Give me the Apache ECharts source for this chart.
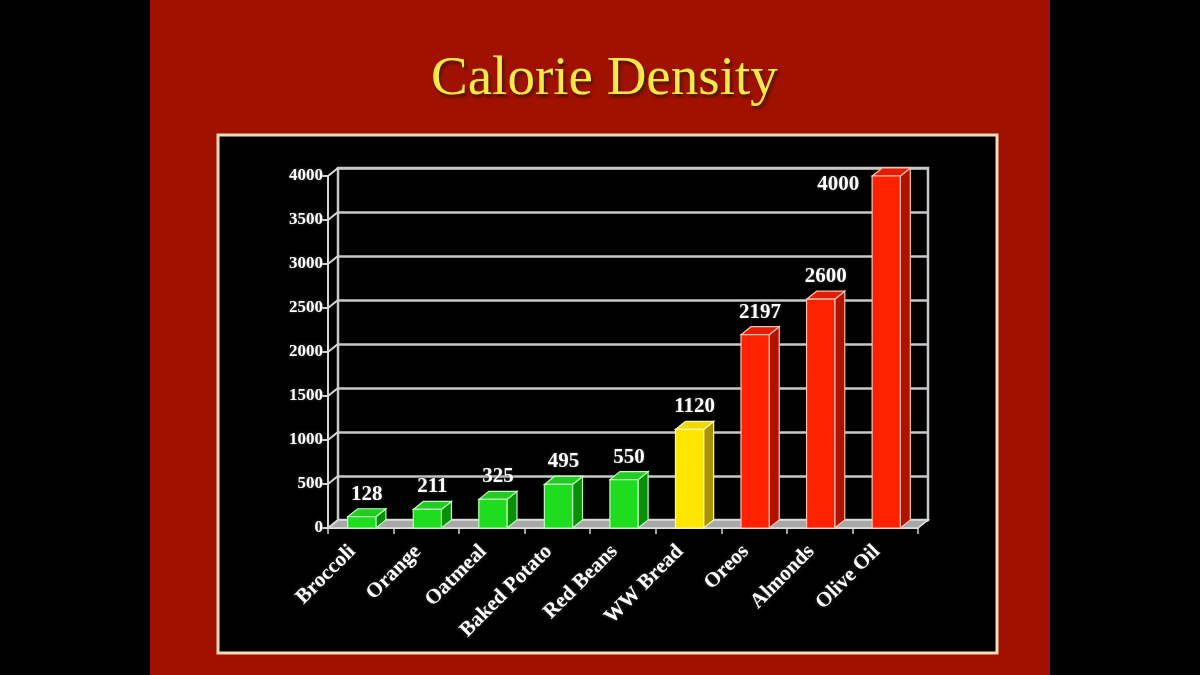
<!DOCTYPE html>
<html>
<head>
<meta charset="utf-8">
<title>Calorie Density</title>
<script src="https://cdn.jsdelivr.net/npm/echarts@6/dist/echarts.min.js"></script>
<style>
  html, body { margin: 0; padding: 0; background: #000; }
  #main { width: 1200px; height: 675px; }
</style>
</head>
<body>
<div id="main"></div>
<script>
// data
var categories = ['Broccoli', 'Orange', 'Oatmeal', 'Baked Potato', 'Red Beans', 'WW Bread', 'Oreos', 'Almonds', 'Olive Oil'];
var calories = [128, 211, 325, 495, 550, 1120, 2197, 2600, 4000];
var densityGroup = ['low', 'low', 'low', 'low', 'low', 'mid', 'high', 'high', 'high'];
var yTicks = [0, 500, 1000, 1500, 2000, 2500, 3000, 3500, 4000];

// colours for each group: front / side / top
var groupColors = {
    low:  { front: '#1fdc1f', side: '#0b8f0b', top: '#22cc22', edge: '#b8ffb8' },
    mid:  { front: '#ffe600', side: '#a89400', top: '#f0d800', edge: '#fff8b0' },
    high: { front: '#ff2200', side: '#b01200', top: '#e61c00', edge: '#ffc0b0' }
};

var DX = 10, DY = -8;   // 3d depth offset
var serif = "'Liberation Serif', 'DejaVu Serif', serif";

var myChart = echarts.init(document.getElementById('main'));

function bandWidth(api) {
    return api.size([1, 0])[0];
}

// floor of the box
function renderFloor(params, api) {
    var band = bandWidth(api);
    var p0 = api.coord([0, 0]);
    var p1 = api.coord([categories.length - 1, 0]);
    var xl = p0[0] - band / 2, xr = p1[0] + band / 2, y = p0[1];
    return {
        type: 'polygon',
        shape: { points: [[xl, y], [xr, y], [xr + DX, y + DY], [xl + DX, y + DY]] },
        style: { fill: '#a8a8a8', stroke: '#e0e0e0', lineWidth: 1.5 }
    };
}

// diagonal connectors from the front axis ticks to the back wall
function renderConnector(params, api) {
    var band = bandWidth(api);
    var p = api.coord([0, api.value(0)]);
    var x = p[0] - band / 2;
    return {
        type: 'line',
        shape: { x1: x, y1: p[1], x2: x + DX, y2: p[1] + DY },
        style: { stroke: '#d8d8d8', lineWidth: 2 }
    };
}

function renderBar(params, api) {
    var idx = api.value(0);
    var val = api.value(1);
    var top = api.coord([idx, val]);
    var base = api.coord([idx, 0]);
    var band = bandWidth(api);
    var w = band * 0.43;
    var x = top[0] - w / 2 + 1;
    var c = groupColors[densityGroup[params.dataIndex]];
    var edge = { stroke: c.edge, lineWidth: 1.2 };
    var textBase = {
        text: String(val), fill: '#fff', font: 'bold 21px ' + serif,
        textShadowColor: 'rgba(80,80,80,0.9)', textShadowBlur: 3
    };

    var label;
    if (top[1] + DY - 30 < params.coordSys.y) {
        // no room above: put it to the left of the bar top
        label = { type: 'text', style: Object.assign({
            x: x - 13, y: top[1] + 9, align: 'right', verticalAlign: 'middle'
        }, textBase) };
    } else {
        label = { type: 'text', style: Object.assign({
            x: x + w / 2 + DX / 2, y: top[1] + DY - 4, align: 'center', verticalAlign: 'bottom'
        }, textBase) };
    }

    return {
        type: 'group',
        children: [
            {
                type: 'polygon',
                shape: { points: [[x + w, top[1]], [x + w + DX, top[1] + DY], [x + w + DX, base[1] + DY], [x + w, base[1]]] },
                style: Object.assign({ fill: c.side }, edge)
            },
            {
                type: 'polygon',
                shape: { points: [[x, top[1]], [x + DX, top[1] + DY], [x + w + DX, top[1] + DY], [x + w, top[1]]] },
                style: Object.assign({ fill: c.top }, edge)
            },
            {
                type: 'rect',
                shape: { x: x, y: top[1], width: w, height: base[1] - top[1] },
                style: Object.assign({ fill: c.front }, edge)
            },
            label
        ]
    };
}

var barData = categories.map(function (name, i) { return [i, calories[i]]; });
var tickData = yTicks.map(function (v) { return [v]; });

var option = {
    backgroundColor: '#000',
    animation: false,
    title: {
        text: 'Calorie Density',
        left: 426,
        top: 47,
        textStyle: {
            fontFamily: serif,
            fontSize: 55,
            fontWeight: 'normal',
            color: '#ffe94a',
            textShadowColor: '#4a1500',
            textShadowBlur: 3,
            textShadowOffsetX: 2,
            textShadowOffsetY: 3
        }
    },
    graphic: {
        elements: [
            { type: 'rect', z: -20, shape: { x: 150, y: 0, width: 900, height: 675 }, style: { fill: '#a01100' } },
            { type: 'rect', z: -19, shape: { x: 218, y: 135, width: 779, height: 518 },
              style: { fill: '#000', stroke: '#f6dcb6', lineWidth: 3 } }
        ]
    },
    grid: [
        { left: 328, top: 176, width: 590, height: 352 },
        { left: 338, top: 168, width: 590, height: 352, show: true, borderColor: '#c8c8c8', borderWidth: 2.5 }
    ],
    xAxis: [
        {
            type: 'category', gridIndex: 0, data: categories,
            axisLine: { lineStyle: { color: '#e0e0e0', width: 2 } },
            axisTick: { show: true, length: 6, lineStyle: { color: '#d0d0d0', width: 1.5 } },
            axisLabel: {
                rotate: 45, margin: 12, padding: [0, 12, 0, 0],
                color: '#fff', fontFamily: serif, fontWeight: 'bold', fontSize: 21,
                textShadowColor: 'rgba(90,90,90,0.9)', textShadowBlur: 3
            }
        },
        {
            type: 'category', gridIndex: 1, data: categories,
            axisLine: { show: false }, axisTick: { show: false }, axisLabel: { show: false }
        }
    ],
    yAxis: [
        {
            type: 'value', gridIndex: 0, min: 0, max: 4000, interval: 500,
            axisLine: { show: true, lineStyle: { color: '#d8d8d8', width: 2 } },
            axisTick: { show: true, length: 7, lineStyle: { color: '#d8d8d8', width: 2 } },
            splitLine: { show: false },
            axisLabel: {
                margin: 5, color: '#fff', fontFamily: serif, fontWeight: 'bold', fontSize: 17,
                formatter: function (v) { return String(v); },
                textShadowColor: 'rgba(90,90,90,0.9)', textShadowBlur: 3
            }
        },
        {
            type: 'value', gridIndex: 1, min: 0, max: 4000, interval: 500,
            axisLine: { show: false }, axisTick: { show: false }, axisLabel: { show: false },
            splitLine: { show: true, lineStyle: { color: '#c8c8c8', width: 2.5 } }
        }
    ],
    series: [
        { type: 'custom', xAxisIndex: 0, yAxisIndex: 0, data: [[0]], renderItem: renderFloor, silent: true, z: 1 },
        { type: 'custom', xAxisIndex: 0, yAxisIndex: 0, data: tickData, renderItem: renderConnector, silent: true, z: 1 },
        { type: 'custom', xAxisIndex: 0, yAxisIndex: 0, data: barData, renderItem: renderBar, z: 3,
          encode: { x: 0, y: 1 } }
    ]
};

myChart.setOption(option);
</script>
</body>
</html>
